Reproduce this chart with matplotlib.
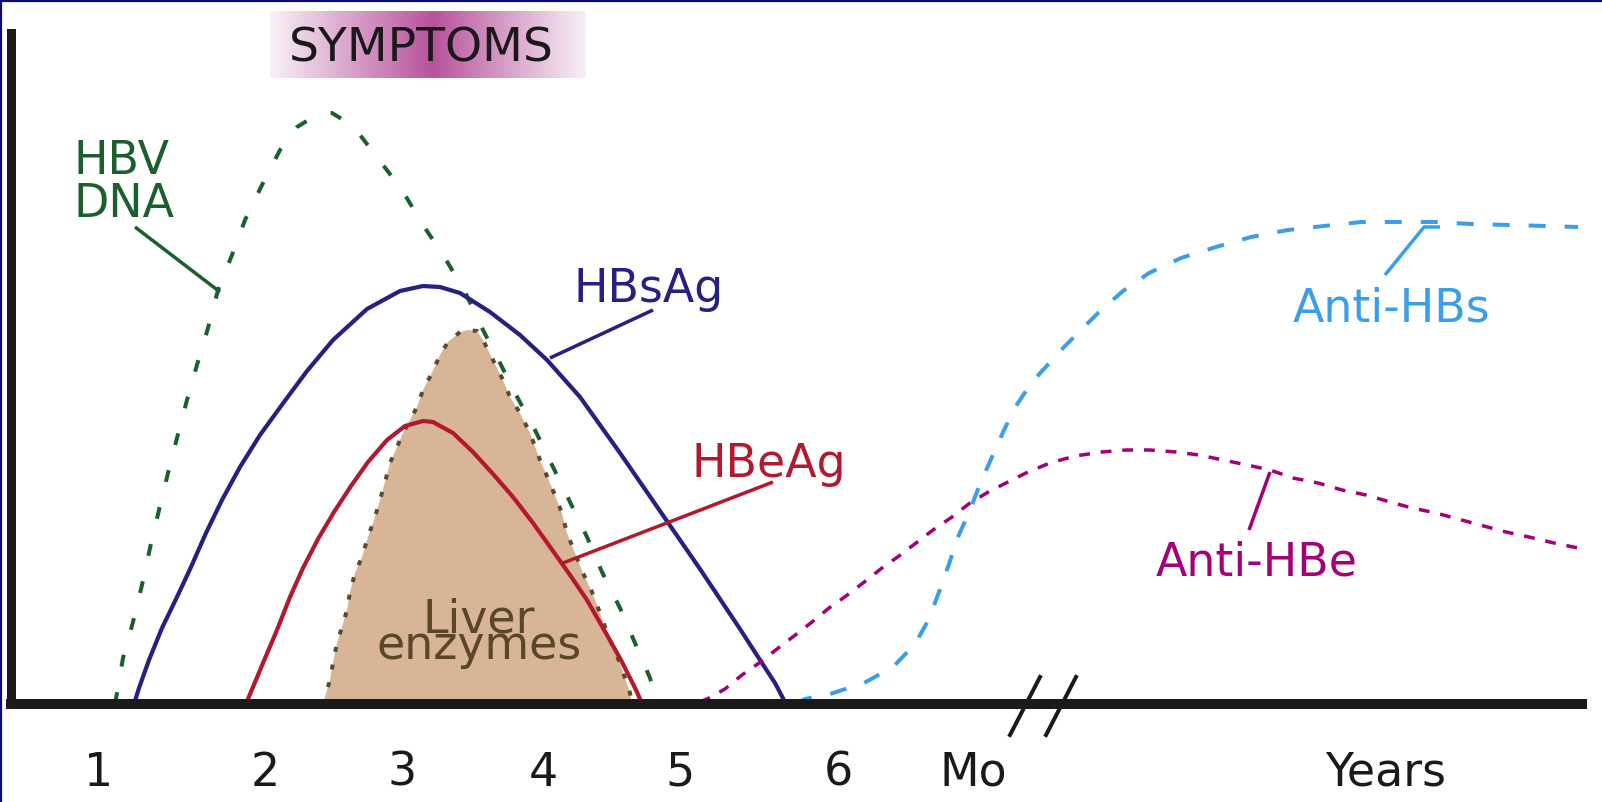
import numpy as np
import matplotlib
matplotlib.use("Agg")
import matplotlib.pyplot as plt
from matplotlib.lines import Line2D
from matplotlib.colors import to_rgb

# ---- data (x: time position, y: level above baseline) ----
hbv_dna_x = [115, 117, 123, 133, 142, 150, 159, 168, 177, 187, 197, 208, 218, 232, 245, 262, 280, 297, 310, 322,
             332, 345, 360, 377, 402, 423, 445, 465, 482, 500, 515, 535, 553, 570, 587, 602, 620, 635, 650, 658]
hbv_dna_y = [0, 11, 46, 82, 119, 156, 194, 231, 266, 304, 339, 376, 414, 449, 484, 519, 554, 577, 585, 591,
             591, 583, 569, 547, 514, 479, 446, 412, 376, 341, 311, 274, 237, 202, 167, 132, 96, 61, 26, 0]

hbsag_x = [134, 139, 149, 162, 177, 191, 206, 222, 240, 260, 284, 307, 333, 367, 400, 423, 440, 460, 490, 520,
           547, 580, 600, 620, 640, 660, 680, 700, 720, 740, 760, 775, 786]
hbsag_y = [0, 16, 44, 76, 107, 137, 171, 204, 237, 269, 302, 333, 364, 395, 413, 418, 417, 411, 392, 369,
           344, 307, 279, 251, 222, 193, 164, 135, 105, 75, 44, 21, 0]

hbeag_x = [246, 248, 263, 277, 290, 303, 318, 334, 351, 368, 387, 405, 423, 433, 453, 473, 493, 513, 533, 553,
           570, 587, 607, 622, 637, 642]
hbeag_y = [0, 5, 41, 74, 107, 136, 165, 192, 218, 242, 264, 278, 283, 282, 271, 252, 230, 207, 181, 153,
           129, 104, 69, 42, 12, 0]

liver_x = [322, 325, 330, 333, 337, 342, 347, 350, 355, 362, 368, 375, 380, 385, 390, 397, 403, 410, 417, 423,
           432, 440, 448, 460, 468, 477, 483, 492, 502, 510, 520, 530, 540, 550, 562, 567, 575, 583, 592, 600,
           610, 620, 630, 632]
liver_y = [0, 7, 24, 41, 61, 77, 94, 112, 131, 147, 167, 187, 204, 222, 241, 257, 271, 284, 297, 314,
           331, 349, 362, 372, 374, 373, 364, 346, 326, 307, 291, 271, 244, 221, 191, 171, 151, 131, 112, 91,
           64, 41, 11, 0]

anti_hbs_x = [796, 805, 830, 864, 893, 915, 929, 939, 949, 958, 970, 980, 992, 1004, 1016, 1032, 1064, 1098,
              1123, 1149, 1181, 1216, 1251, 1288, 1324, 1361, 1399, 1437, 1471, 1509, 1546, 1578]
anti_hbs_y = [0, 5, 10, 21, 37, 60, 85, 112, 140, 167, 194, 220, 247, 274, 298, 322, 357, 391,
              413, 431, 446, 457, 467, 474, 478, 482, 482, 482, 480, 479, 478, 477]

anti_hbe_x = [700, 709, 725, 742, 759, 777, 794, 812, 829, 846, 863, 882, 899, 916, 933, 952, 970, 990, 1008,
              1028, 1050, 1075, 1102, 1126, 1150, 1176, 1199, 1223, 1247, 1270, 1293, 1318, 1342, 1366, 1390,
              1412, 1436, 1458, 1480, 1506, 1529, 1554, 1578]
anti_hbe_y = [2, 6, 15, 29, 41, 55, 68, 82, 96, 108, 121, 136, 148, 161, 174, 187, 201, 213, 222,
              232, 241, 248, 252, 254, 254, 252, 249, 244, 239, 234, 226, 221, 214, 209, 202,
              196, 191, 185, 179, 172, 167, 161, 156]

tick_pos = [99, 265, 402, 543, 680, 838, 973, 1386]
tick_labels = ["1", "2", "3", "4", "5", "6", "Mo", "Years"]

# ---- colours ----
GREEN = "#1c5f2f"
NAVY = "#262080"
RED = "#b3182f"
TAN = "#d8b597"
BROWN = "#5b4a2e"
BLUE = "#3a9fe8"
MAGENTA = "#a3007a"
BLACK = "#1b191a"

plt.rcParams['font.family'] = ['DejaVu Sans']
PX = 0.72  # points per pixel at dpi 100

fig = plt.figure(figsize=(16.02, 8.02), dpi=100, facecolor="white")
ax = fig.add_axes([10.5 / 1602, 98 / 802, (1582 - 10.5) / 1602, (704 - 32.5) / 802])
ax.set_facecolor("white")

# symptoms gradient box
light = np.array(to_rgb("#f8f1f7"))
dark = np.array(to_rgb("#b8539c"))
xs = np.linspace(270, 586, 400)
half = np.where(xs < 433, 163.0, 153.0)
t = np.clip(1 - np.abs(xs - 433) / half, 0, 1)
grad = (light[None, :] + t[:, None] * (dark - light)[None, :])[None, :, :]
im = ax.imshow(grad, extent=[270, 586, 626, 693], aspect='auto', zorder=0, interpolation='bilinear')
im.set_clip_on(False)

# liver enzymes
ax.fill(liver_x, liver_y, color=TAN, zorder=1, lw=0)
ax.plot(liver_x, liver_y, color=BROWN, lw=4 * PX, linestyle=(0, (1.25, 3.25)), zorder=1.5)

lw = 4 * PX
ax.plot(hbv_dna_x, hbv_dna_y, color=GREEN, lw=lw, linestyle=(0, (3.0, 6.5)), zorder=2)
ax.plot(hbsag_x, hbsag_y, color=NAVY, lw=4.2 * PX, zorder=2)
ax.plot(hbeag_x, hbeag_y, color=RED, lw=4.2 * PX, zorder=2)
ax.plot(anti_hbs_x, anti_hbs_y, color=BLUE, lw=lw, linestyle=(0, (4.25, 4.75)), zorder=2)
ax.plot(anti_hbe_x, anti_hbe_y, color=MAGENTA, lw=3.5 * PX, linestyle=(0, (3.1, 3.1)), zorder=2)

# pointer lines
plw = 3.5 * PX
ax.plot([135, 220], [477, 412], color=GREEN, lw=plw, solid_capstyle='butt')
ax.plot([550, 653], [346, 394], color=NAVY, lw=plw, solid_capstyle='butt')
ax.plot([563, 773], [141, 222], color=RED, lw=plw, solid_capstyle='butt')
ax.plot([1385, 1424, 1440], [429, 477, 477], color=BLUE, lw=plw, solid_capstyle='butt')
ax.plot([1249, 1270], [174, 232], color=MAGENTA, lw=plw, solid_capstyle='butt')

# break marks on the time axis
for bx in (1010, 1046):
    ax.plot([bx, bx + 30], [-31, 27], color=BLACK, lw=4 * PX, clip_on=False, zorder=3)

FS = 33
ax.text(421, 642, "SYMPTOMS", fontsize=34, color=BLACK, ha='center', va='baseline')
ax.text(74, 530, "HBV", fontsize=FS, color=GREEN, ha='left', va='baseline')
ax.text(74, 487, "DNA", fontsize=FS, color=GREEN, ha='left', va='baseline')
ax.text(573, 402, "HBsAg", fontsize=FS, color=NAVY, ha='left', va='baseline')
ax.text(692, 227, "HBeAg", fontsize=FS, color=RED, ha='left', va='baseline')
ax.text(479, 106.5, "Liver\nenzymes", fontsize=FS, color="#5a4729", ha='center', va='top',
        multialignment='center', linespacing=0.47)
ax.text(1293, 382, "Anti-HBs", fontsize=FS, color=BLUE, ha='left', va='baseline')
ax.text(1156, 129, "Anti-HBe", fontsize=FS, color=MAGENTA, ha='left', va='baseline')
for p, lab in zip(tick_pos, tick_labels):
    ax.text(p, -82, lab, fontsize=FS, color=BLACK, ha='center', va='baseline')

ax.set_xlim(10.5, 1582)
ax.set_ylim(0, 671.5)
ax.set_xticks([])
ax.set_yticks([])
for s in ('top', 'right'):
    ax.spines[s].set_visible(False)
ax.spines['left'].set_linewidth(9 * PX)
ax.spines['bottom'].set_linewidth(10 * PX)
for s in ('left', 'bottom'):
    ax.spines[s].set_color(BLACK)
    ax.spines[s].set_capstyle('projecting')
    ax.spines[s].set_zorder(4)

# thin navy frame on top and left of the picture
fig.add_artist(Line2D([0, 0], [0, 1], transform=fig.transFigure, color="#0b0b7a", lw=3))
fig.add_artist(Line2D([0, 1], [1, 1], transform=fig.transFigure, color="#0b0b7a", lw=3))

fig.savefig("out.png", dpi=100, facecolor="white")
